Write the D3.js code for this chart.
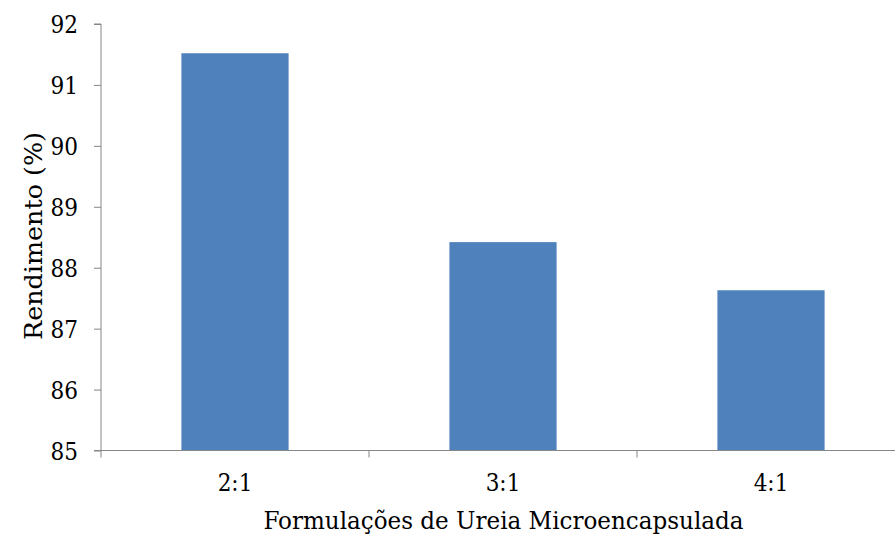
<!DOCTYPE html>
<html>
<head>
<meta charset="utf-8">
<script src="https://cdn.jsdelivr.net/npm/d3@7"></script>
<style>
  html, body { margin: 0; padding: 0; background: #fff; }
  svg { display: block; }
</style>
</head>
<body>
<svg id="chart" width="895" height="534"></svg>
<script>
// Yield (%) per microencapsulated urea formulation
const categories = ["2:1", "3:1", "4:1"];
const rendimento = [91.52, 88.42, 87.63];
const yTicks = [85, 86, 87, 88, 89, 90, 91, 92];

const serif = "'DejaVu Serif Condensed', 'DejaVu Serif'";
const fontSize = 24;
const svg = d3.select("#chart");
const plotLeft = 101, plotRight = 905, plotTop = 24, plotBottom = 450.5;
const axisColor = "#868686";

const x = d3.scaleBand()
  .domain(categories)
  .range([plotLeft, plotRight])
  .paddingInner(0.6)
  .paddingOuter(0.3);

const y = d3.scaleLinear().domain([85, 92]).range([plotBottom, plotTop]);

// Bars
svg.append("g").selectAll("rect")
  .data(categories)
  .join("rect")
  .attr("x", d => x(d))
  .attr("width", x.bandwidth())
  .attr("y", (d, i) => y(rendimento[i]))
  .attr("height", (d, i) => y(85) - y(rendimento[i]))
  .attr("fill", "#4F81BD");

// Y axis
const yAxis = svg.append("g").attr("transform", `translate(${plotLeft},0)`)
  .call(d3.axisLeft(y).tickValues(yTicks).tickSize(7).tickPadding(16).tickFormat(d3.format("d")));
yAxis.attr("font-family", serif).attr("font-size", fontSize);
yAxis.select(".domain").attr("stroke", axisColor).attr("d", `M-7,${plotTop}H0V${plotBottom}`);
yAxis.selectAll(".tick line").attr("stroke", axisColor);
yAxis.selectAll(".tick text").attr("fill", "#000").attr("dy", "0.36em");

// X axis: ticks on category boundaries
const step = x.step();
const start = x(categories[0]) - step * x.paddingInner() / 2;
const boundaries = d3.range(categories.length + 1).map(k => start + k * step);
const xg = svg.append("g").attr("font-family", serif).attr("font-size", fontSize);
xg.append("line")
  .attr("x1", plotLeft - 7).attr("x2", plotRight)
  .attr("y1", plotBottom).attr("y2", plotBottom)
  .attr("stroke", axisColor);
xg.selectAll("line.tk")
  .data(boundaries)
  .join("line")
  .attr("class", "tk")
  .attr("x1", d => d).attr("x2", d => d)
  .attr("y1", plotBottom).attr("y2", plotBottom + 7)
  .attr("stroke", axisColor);
xg.selectAll("text")
  .data(categories)
  .join("text")
  .attr("x", d => x(d) + x.bandwidth() / 2)
  .attr("y", 491)
  .attr("text-anchor", "middle")
  .text(d => d);

// Axis titles
svg.append("text")
  .attr("x", (plotLeft + plotRight) / 2 + 0.5)
  .attr("y", 529)
  .attr("text-anchor", "middle")
  .attr("font-family", serif)
  .attr("font-size", fontSize)
  .attr("textLength", 480)
  .attr("lengthAdjust", "spacingAndGlyphs")
  .text("Formulações de Ureia Microencapsulada");

svg.append("text")
  .attr("transform", "translate(42,236) rotate(-90)")
  .attr("text-anchor", "middle")
  .attr("font-family", serif)
  .attr("font-size", fontSize)
  .attr("textLength", 208)
  .attr("lengthAdjust", "spacingAndGlyphs")
  .text("Rendimento (%)");
</script>
</body>
</html>
